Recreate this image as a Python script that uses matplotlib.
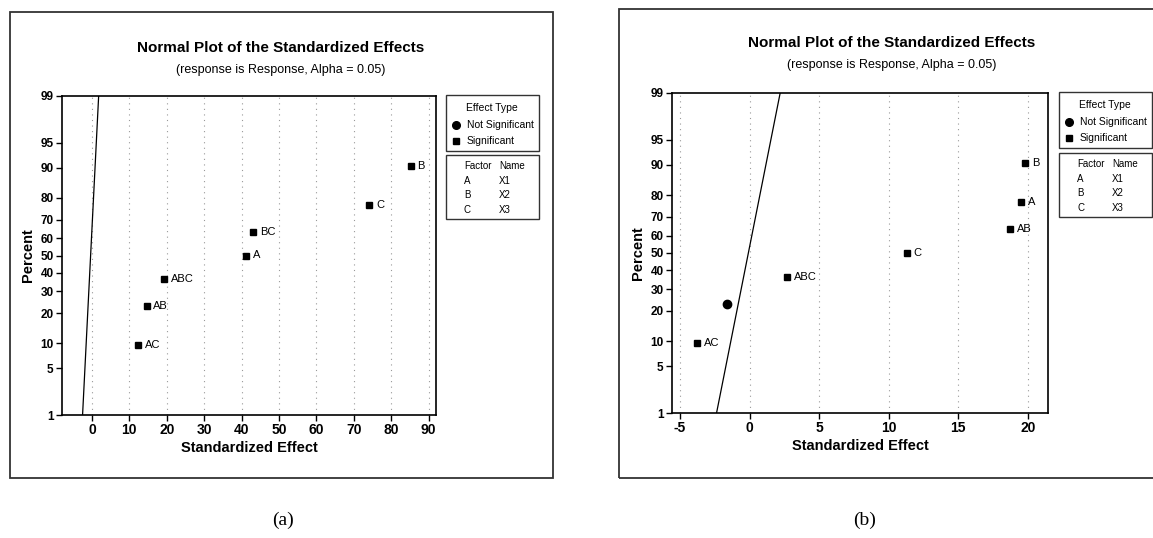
import matplotlib
matplotlib.use('Agg')
import matplotlib.pyplot as plt
import numpy as np
from statistics import NormalDist
from matplotlib.patches import Rectangle
from matplotlib.lines import Line2D

plt.rcParams['font.family'] = ['Liberation Sans', 'DejaVu Sans']

W, H = 1153, 538

# plotting positions (percent) shared by both panels
percent = [9.5, 23.0, 36.5, 50.0, 63.5, 77.0, 90.5]

# panel (a)
a_effects = [12.3, 14.6, 19.2, 41.1, 43.0, 74.1, 85.2]
a_labels = ['AC', 'AB', 'ABC', 'A', 'BC', 'C', 'B']
a_signif = [True, True, True, True, True, True, True]
a_line_x = [-2.5, 1.8]
a_xticks = [0, 10, 20, 30, 40, 50, 60, 70, 80, 90]

# panel (b)
b_effects = [-3.8, -1.6, 2.7, 11.3, 18.7, 19.5, 19.8]
b_labels = ['AC', '', 'ABC', 'C', 'AB', 'A', 'B']
b_signif = [True, False, True, True, True, True, True]
b_line_x = [-2.37, 2.2]
b_xticks = [-5, 0, 5, 10, 15, 20]

line_pct = [1, 99]
yticks = [1, 5, 10, 20, 30, 40, 50, 60, 70, 80, 90, 95, 99]

factors = ['A', 'B', 'C']
names = ['X1', 'X2', 'X3']

nd = NormalDist()
_ppf = np.vectorize(lambda v: nd.inv_cdf(v / 100.0), otypes=[float])
_cdf = np.vectorize(lambda v: nd.cdf(v) * 100.0, otypes=[float])


def fwd(p):
    p = np.clip(np.asarray(p, dtype=float), 1e-6, 100 - 1e-6)
    return _ppf(p)


def inv(z):
    return _cdf(np.asarray(z, dtype=float))


def fbox(x0, y0, x1, y1):
    """pixel box -> figure coords [left, bottom, width, height]"""
    return [x0 / W, 1 - y1 / H, (x1 - x0) / W, (y1 - y0) / H]


fig = plt.figure(figsize=(W / 100, H / 100), dpi=100)


def panel(frame, axbox, title_xy, effects, labels, signif, line_x, xticks, xlim,
          leg1, leg2, sub_xy, caption_xy, caption):
    # outer frame
    fig.patches.append(Rectangle((frame[0] / W, 1 - frame[3] / H),
                                 (frame[2] - frame[0]) / W, (frame[3] - frame[1]) / H,
                                 transform=fig.transFigure, fill=False,
                                 edgecolor='#333333', linewidth=1.3))
    ax = fig.add_axes(fbox(*axbox))
    ax.set_yscale('function', functions=(fwd, inv))
    ax.set_ylim(1, 99)
    ax.set_xlim(*xlim)
    ax.set_yticks(yticks)
    ax.set_yticklabels([str(t) for t in yticks], fontweight='bold', fontsize=8.5)
    ax.set_xticks(xticks)
    ax.set_xticklabels([str(t) for t in xticks], fontweight='bold', fontsize=10)
    ax.tick_params(direction='out', length=4, width=1, pad=2)
    for s in ax.spines.values():
        s.set_linewidth(1.2)
    ax.grid(axis='x', linestyle=(0, (1, 4)), color='#999999', linewidth=0.8)
    ax.set_axisbelow(True)

    ax.plot(line_x, line_pct, color='black', linewidth=0.9)
    for x, p, lab, sg in zip(effects, percent, labels, signif):
        ax.plot([x], [p], marker='s' if sg else 'o', color='black',
                markersize=5 if sg else 6, linestyle='none')
        if lab:
            ax.annotate(lab, (x, p), xytext=(5, 0), textcoords='offset points',
                        va='center', ha='left', fontsize=8)

    ax.set_ylabel('Percent', fontweight='bold', fontsize=10.5, labelpad=4)
    ax.set_xlabel('Standardized Effect', fontweight='bold', fontsize=10.5, labelpad=3)

    fig.text(title_xy[0] / W, 1 - title_xy[1] / H,
             'Normal Plot of the Standardized Effects',
             ha='center', va='center', fontweight='bold', fontsize=11)
    fig.text(sub_xy[0] / W, 1 - sub_xy[1] / H,
             '(response is Response, Alpha = 0.05)',
             ha='center', va='center', fontsize=9)

    # legend box 1: effect type
    x0, y0, x1, y1 = leg1
    fig.patches.append(Rectangle((x0 / W, 1 - y1 / H), (x1 - x0) / W, (y1 - y0) / H,
                                 transform=fig.transFigure, fill=False,
                                 edgecolor='#333333', linewidth=1))
    fig.text((x0 + 46) / W, 1 - (y0 + 13) / H, 'Effect Type', ha='center',
             va='center', fontsize=7.5)
    mx = x0 + 10
    for k, (mk, txt) in enumerate([('o', 'Not Significant'), ('s', 'Significant')]):
        yy = y0 + 30 + 16 * k
        fig.lines.append(Line2D([mx / W], [1 - yy / H], marker=mk, color='black',
                                markersize=5 if mk == 's' else 5.5,
                                transform=fig.transFigure))
        fig.text((mx + 11) / W, 1 - yy / H, txt, ha='left', va='center', fontsize=7.5)

    # legend box 2: factor names
    x0, y0, x1, y1 = leg2
    fig.patches.append(Rectangle((x0 / W, 1 - y1 / H), (x1 - x0) / W, (y1 - y0) / H,
                                 transform=fig.transFigure, fill=False,
                                 edgecolor='#333333', linewidth=1))
    fig.text((x0 + 18) / W, 1 - (y0 + 11) / H, 'Factor', ha='left', va='center', fontsize=7)
    fig.text((x0 + 53) / W, 1 - (y0 + 11) / H, 'Name', ha='left', va='center', fontsize=7)
    for k, (f, n) in enumerate(zip(factors, names)):
        yy = y0 + 26 + 14.5 * k
        fig.text((x0 + 18) / W, 1 - yy / H, f, ha='left', va='center', fontsize=7)
        fig.text((x0 + 53) / W, 1 - yy / H, n, ha='left', va='center', fontsize=7)

    fig.text(caption_xy[0] / W, 1 - caption_xy[1] / H, caption, ha='center',
             va='center', fontsize=14, family='Liberation Serif')
    return ax


panel(frame=(10, 12, 553, 478), axbox=(62, 96, 436, 415), title_xy=(281, 48),
      effects=a_effects, labels=a_labels, signif=a_signif, line_x=a_line_x,
      xticks=a_xticks, xlim=(-8, 92), leg1=(446, 95, 539, 151),
      leg2=(446, 155, 539, 219), sub_xy=(281, 70), caption_xy=(283, 520),
      caption='(a)')

panel(frame=(619, 9, 1160, 478), axbox=(672, 93, 1048, 413), title_xy=(892, 43),
      effects=b_effects, labels=b_labels, signif=b_signif, line_x=b_line_x,
      xticks=b_xticks, xlim=(-5.57, 21.44), leg1=(1059, 92, 1152, 148),
      leg2=(1059, 153, 1152, 217), sub_xy=(892, 65), caption_xy=(865, 520),
      caption='(b)')

fig.savefig('out.png', dpi=100)
